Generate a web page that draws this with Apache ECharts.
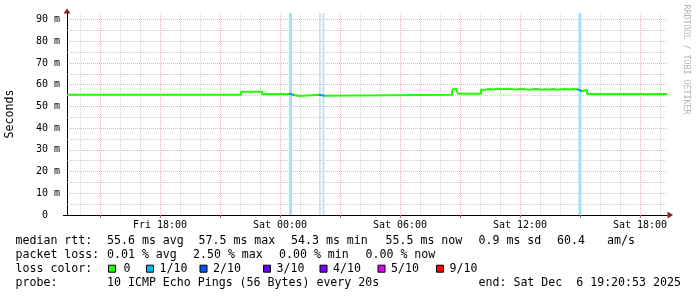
<!DOCTYPE html>
<html><head><meta charset="utf-8">
<script src="https://cdn.jsdelivr.net/npm/echarts@6/dist/echarts.min.js"></script>
<style>html,body{margin:0;padding:0;background:#fff}#c{width:697px;height:297px}</style>
</head><body><div id="c"></div>
<script>
// ---- data (time in hours since Fri 00:00, values in ms) ----
const startHour = 13 + 20/60 + 53/3600;   // Fri 13:20:53
const endHour = startHour + 30;           // Sat 19:20:53
const timeTickHours = [18, 24, 30, 36, 42];
const timeTickLabels = ['Fri 18:00', 'Sat 00:00', 'Sat 06:00', 'Sat 12:00', 'Sat 18:00'];
const majorGridHours = [15, 18, 21, 24, 27, 30, 33, 36, 39, 42];
const minorGridHours = [14, 16, 17, 19, 20, 22, 23, 25, 26, 28, 29, 31, 32, 34, 35, 37, 38, 40, 41, 43];
const yTickValues = [0, 10, 20, 30, 40, 50, 60, 70, 80, 90];
const yTickLabels = ['0  ', '10 m', '20 m', '30 m', '40 m', '50 m', '60 m', '70 m', '80 m', '90 m'];
const yMinorValues = [5, 15, 25, 35, 45, 55, 65, 75, 85];

const medianTimes = [13.35, 22.05, 23.10, 24.50, 24.60, 24.95, 26.00, 26.20, 32.60, 32.65, 32.80, 32.90,
  34.05, 34.25, 34.45, 34.65, 34.85, 35.05, 35.25, 35.45, 35.65, 35.85, 36.05, 36.25, 36.45, 36.65,
  36.85, 37.05, 37.25, 37.45, 37.65, 37.85, 38.05, 38.25, 38.45, 38.65, 38.85, 38.95, 39.10, 39.35, 43.35];
const medianValues = [55.4, 56.7, 55.7, 55.4, 54.8, 55.4, 54.9, 55.4, 57.0, 58.1, 57.5, 55.8,
  57.7, 58.0, 57.8, 58.1, 57.9, 58.0, 58.1, 57.9, 57.8, 58.1, 57.9, 57.7, 57.9, 58.0,
  57.7, 57.9, 57.8, 58.0, 57.7, 57.9, 58.0, 57.8, 58.0, 57.9, 57.7, 57.0, 57.7, 55.7, 55.7];

// loss periods (1/10 loss)
const lossStarts = [24.45, 25.96, 26.13, 38.92];
const lossEnds   = [24.60, 26.01, 26.21, 39.07];
const lossLineStarts = [24.45, 25.95, 38.85];
const lossLineEnds   = [24.70, 26.25, 39.10];

const lossColorLabels = ['0', '1/10', '2/10', '3/10', '4/10', '5/10', '9/10'];
const lossColorValues = ['#26ff00', '#00b8ff', '#0059ff', '#5e00ff', '#7e00ff', '#dd00ff', '#ff0000'];

const rttStats = ['55.6 ms avg', '57.5 ms max', '54.3 ms min', '55.5 ms now', '0.9 ms sd', '60.4', 'am/s'];
const lossStats = ['0.01 % avg', '2.50 % max', '0.00 % min', '0.00 % now'];
const probeText = '10 ICMP Echo Pings (56 Bytes) every 20s';
const endText = 'end: Sat Dec  6 19:20:53 2025';

// ---- layout / style ----
const MONO = '"DejaVu Sans Mono", monospace';
const G = {left: 67, right: 30, top: 13, bottom: 82};
const W = 697, H = 297;
const MGRID = 'rgba(220,120,120,0.6)';
const MINGRID = 'rgba(185,185,185,0.7)';

const chart = echarts.init(document.getElementById('c'), null, {renderer: 'canvas'});

const gridLines = [];
majorGridHours.forEach(h => gridLines.push({xAxis: h, lineStyle: {color: MGRID, type: [1, 1], width: 1}}));
minorGridHours.forEach(h => gridLines.push({xAxis: h, lineStyle: {color: MINGRID, type: [1, 1], width: 1}}));
yTickValues.filter(v => v > 0).forEach(v => gridLines.push({yAxis: v, lineStyle: {color: MGRID, type: [1, 1], width: 1}}));
yMinorValues.forEach(v => gridLines.push({yAxis: v, lineStyle: {color: MINGRID, type: [1, 1], width: 1}}));

// step data built from the median arrays (value holds until next sample)
const stepData = [];
medianTimes.forEach((t, i) => {
  stepData.push([t, medianValues[i]]);
  if (i < medianTimes.length - 1) stepData.push([medianTimes[i + 1], medianValues[i]]);
});
const lossData = lossStarts.map((s, i) => [s, lossEnds[i]]);

const txt = (text, x, y, extra) => Object.assign({
  type: 'text', x: x, y: y, silent: true,
  style: {text: text, font: '11.6px ' + MONO, fill: '#000', align: 'left', verticalAlign: 'middle', textAlign: 'left', textVerticalAlign: 'middle'}
}, extra || {});

const graphics = [];
const gl = G.left, gb = H - G.bottom, gr = W - G.right, gt = G.top;
graphics.push({type: 'polygon', silent: true, z: 100, shape: {points: [[gl - 3.5, gt + 0.5], [gl + 3.5, gt + 0.5], [gl, gt - 4.5]]}, style: {fill: '#8b1a1a'}});
graphics.push({type: 'polygon', silent: true, z: 100, shape: {points: [[gr + 0.5, gb - 3.5], [gr + 0.5, gb + 3.5], [gr + 6, gb]]}, style: {fill: '#8b1a1a'}});
graphics.push({type: 'line', silent: true, shape: {x1: gl - 4, y1: gb + 0.5, x2: gl, y2: gb + 0.5}, style: {stroke: '#000', lineWidth: 1}});
graphics.push({type: 'text', x: 686, y: 59.5, rotation: -Math.PI / 2, silent: true,
  style: {text: 'RRDTOOL / TOBI OETIKER', font: '8.3px ' + MONO, fill: '#b4b4b4', align: 'center', verticalAlign: 'middle', textAlign: 'center', textVerticalAlign: 'middle'}});
const row = [240.5, 255, 268.7, 282.5];
graphics.push(txt('median rtt:', 15.5, row[0]));
const rttX = [107, 198.5, 291, 385.5, 478.5, 557, 607];
rttStats.forEach((s, i) => graphics.push(txt(s, rttX[i], row[0])));
graphics.push(txt('packet loss:', 15.5, row[1]));
const lossX = [107, 193, 279, 365.5];
lossStats.forEach((s, i) => graphics.push(txt(s, lossX[i], row[1])));
graphics.push(txt('loss color:', 15.5, row[2]));
const boxX = [108, 146, 199.5, 263, 319.5, 377.5, 436];
lossColorLabels.forEach((l, i) => {
  graphics.push({type: 'rect', silent: true, shape: {x: boxX[i] + 0.5, y: row[2] - 3.5, width: 7, height: 7},
    style: {fill: lossColorValues[i], stroke: '#000', lineWidth: 1}});
  graphics.push(txt(l, boxX[i] + (i === 0 ? 15.5 : 13.5), row[2]));
});
graphics.push(txt('probe:', 15.5, row[3]));
graphics.push(txt(probeText, 107, row[3]));
graphics.push(txt(endText, 478.5, row[3]));

const visualPieces = lossLineStarts.map((s, i) => ({gte: s, lte: lossLineEnds[i], color: '#0a9be0'}));

chart.setOption({
  animation: false,
  backgroundColor: '#fff',
  grid: {left: G.left, right: G.right, top: G.top, bottom: G.bottom, containLabel: false, outerBoundsMode: 'none'},
  xAxis: {
    type: 'value', min: startHour, max: endHour,
    axisLine: {show: true, onZero: false, lineStyle: {color: '#000', width: 1}},
    axisTick: {show: true, customValues: majorGridHours, length: 3, lineStyle: {color: '#c07070'}},
    axisLabel: {
      customValues: timeTickHours, margin: 5,
      fontFamily: MONO, fontSize: 10, color: '#000',
      formatter: v => { const i = timeTickHours.findIndex(h => Math.abs(h - v) < 1e-6); return i >= 0 ? timeTickLabels[i] : ''; }
    },
    splitLine: {show: false}
  },
  yAxis: {
    type: 'value', min: 0, max: 93,
    axisLine: {show: true, lineStyle: {color: '#000', width: 1}},
    axisTick: {show: false},
    axisLabel: {
      customValues: yTickValues, margin: 7,
      fontFamily: MONO, fontSize: 10, color: '#000',
      formatter: v => { const i = yTickValues.indexOf(Math.round(v)); return i >= 0 ? yTickLabels[i] : ''; }
    },
    splitLine: {show: false},
    name: 'Seconds', nameLocation: 'middle', nameGap: 51, nameRotate: 90,
    nameTextStyle: {fontFamily: MONO, fontSize: 11.6, color: '#000'}
  },
  visualMap: {
    type: 'piecewise', show: false, dimension: 0, seriesIndex: 2,
    pieces: visualPieces, outOfRange: {color: '#22ff00'}
  },
  series: [
    {
      type: 'line', z: 1, silent: true, data: stepData, showSymbol: false,
      lineStyle: {opacity: 0}, itemStyle: {opacity: 0},
      markLine: {z: 1, silent: true, symbol: 'none', label: {show: false}, emphasis: {disabled: true}, data: gridLines, animation: false}
    },
    {
      type: 'custom', z: 2, silent: true, data: lossData,
      renderItem: function (params, api) {
        const p0 = api.coord([api.value(0), 0]);
        const p1 = api.coord([api.value(1), 0]);
        const cs = params.coordSys;
        return {type: 'rect', shape: {x: p0[0], y: cs.y, width: Math.max(1, p1[0] - p0[0]), height: cs.height},
          style: {fill: '#a6e1f8'}};
      }
    },
    {
      type: 'line', z: 3, data: stepData, showSymbol: false, silent: true,
      lineStyle: {width: 2}
    }
  ],
  graphic: graphics
});
</script>
</body></html>
